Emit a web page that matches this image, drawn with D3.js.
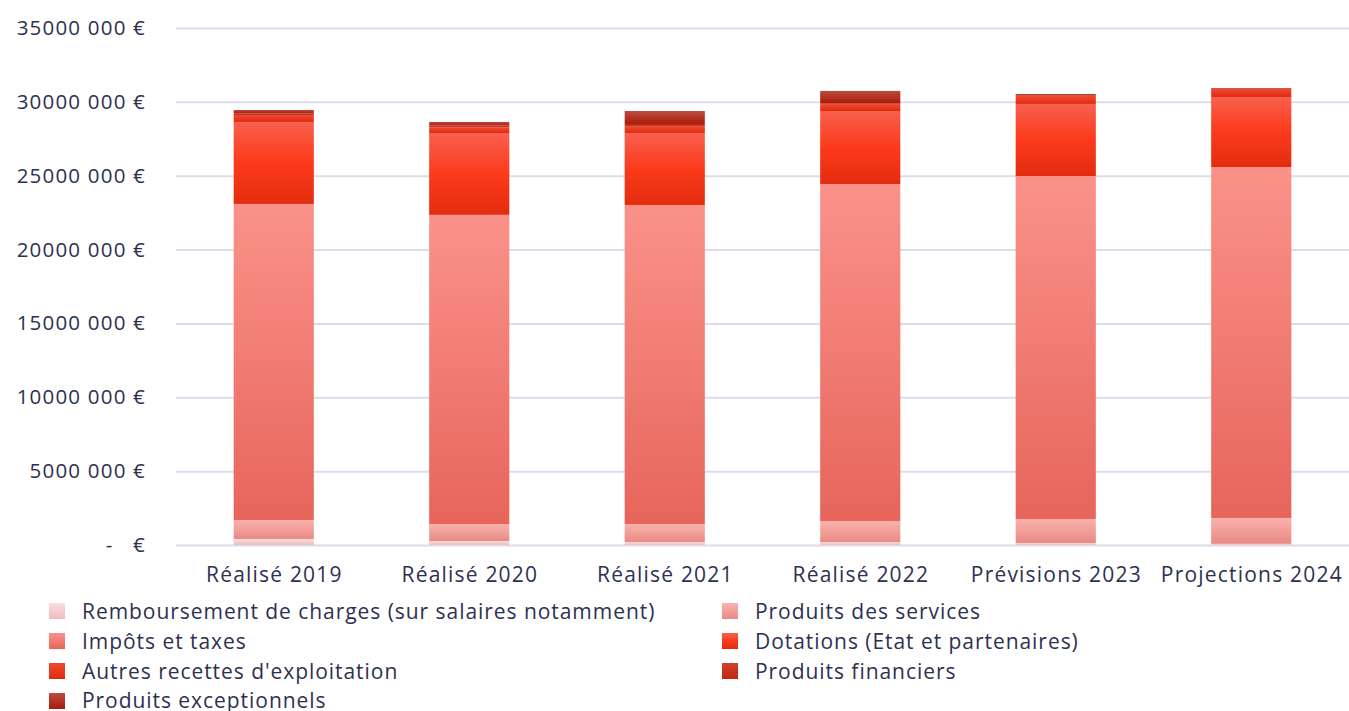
<!DOCTYPE html>
<html><head><meta charset="utf-8">
<script src="https://cdn.jsdelivr.net/npm/d3@7"></script>
<style>
html,body{margin:0;padding:0;background:#fff;}
svg{display:block;}
text{font-family:"Open Sans",Lato,sans-serif;fill:#2d3150;}
</style></head><body>
<svg id="chart" width="1349" height="711"></svg>
<script>
const categories = ["Réalisé 2019","Réalisé 2020","Réalisé 2021","Réalisé 2022","Prévisions 2023","Projections 2024"];
const seriesNames = ["Remboursement de charges (sur salaires notamment)","Produits des services","Impôts et taxes","Dotations (Etat et partenaires)","Autres recettes d'exploitation","Produits financiers","Produits exceptionnels"];
const remboursement = [410000, 270000, 200000, 200000, 140000, 80000];
const produitsServices = [1280000, 1150000, 1220000, 1420000, 1620000, 1750000];
const impots = [21400000, 20930000, 21600000, 22820000, 23220000, 23760000];
const dotations = [5550000, 5540000, 4870000, 4940000, 4880000, 4740000];
const autresRecettes = [470000, 390000, 470000, 470000, 540000, 540000];
const produitsFinanciers = [100000, 120000, 80000, 60000, 50000, 30000];
const produitsExceptionnels = [240000, 240000, 940000, 830000, 80000, 40000];
const yTicks = [0, 5000000, 10000000, 15000000, 20000000, 25000000, 30000000, 35000000];

const seriesValues = [remboursement, produitsServices, impots, dotations, autresRecettes, produitsFinanciers, produitsExceptionnels];
const grads = [
  ["#fbdcdd","#f0bcbe"],
  ["#fbb2ac","#e88a84"],
  ["#fa928a","#e7655b"],
  ["#f8604e","#fc3a1b","#e32c0f"],
  ["#ee4a30","#e02a10"],
  ["#d2402c","#c02812"],
  ["#bb4d40","#a81a06"]
];

const svg = d3.select("#chart");
const W = 1349;
const m = {left:176, right:0};
const x = d3.scaleBand().domain(categories).range([m.left, W - m.right]).paddingInner(0.59).paddingOuter(0.295);
const y = d3.scaleLinear().domain([0, 35000000]).range([545, 28]);

const defs = svg.append("defs");
grads.forEach((g,i)=>{
  const lg = defs.append("linearGradient").attr("id","g"+i).attr("x1",0).attr("y1",0).attr("x2",0).attr("y2",1);
  g.forEach((c,j)=>lg.append("stop").attr("offset", (j/(g.length-1)*100)+"%").attr("stop-color",c));
});

const yAxis = d3.axisLeft(y).tickValues(yTicks).tickSize(-(W - m.left)).tickPadding(30)
  .tickFormat(d => d === 0 ? "-   €" : (d/1000) + " 000 €");
const ga = svg.append("g").attr("transform",`translate(${m.left},0)`).call(yAxis);
ga.select(".domain").remove();
ga.selectAll(".tick line").attr("stroke","#dcdcec").attr("stroke-width",2);
ga.selectAll(".tick text").attr("font-size",20.5).attr("letter-spacing",1.2).attr("xml:space","preserve");

const table = categories.map((c,i)=>{ const o={cat:c}; seriesNames.forEach((s,k)=>o[s]=seriesValues[k][i]); return o; });
const stack = d3.stack().keys(seriesNames)(table);
svg.append("g").selectAll("g").data(stack).join("g")
  .attr("fill",(d,i)=>`url(#g${i})`)
  .selectAll("rect").data(d=>d).join("rect")
  .attr("x", d=>x(d.data.cat)).attr("width", x.bandwidth())
  .attr("y", d=>y(d[1])).attr("height", d=>y(d[0]) - y(d[1]));

const xa = svg.append("g").attr("transform","translate(0,545)").call(d3.axisBottom(x).tickSize(0).tickPadding(22));
xa.select(".domain").remove();
xa.selectAll(".tick text").attr("font-size",21).attr("letter-spacing",1.2).attr("dx",0.6);

const legendCols = [49, 722];
const leg = svg.append("g");
seriesNames.forEach((s,i)=>{
  const col = i % 2, row = Math.floor(i/2);
  const gx = legendCols[col], gy = 611 + row*30;
  leg.append("rect").attr("x",gx).attr("y",gy-8).attr("width",16).attr("height",16).attr("fill",`url(#g${i})`);
  leg.append("text").attr("x",gx+33).attr("y",gy - (row===3?1:0)).attr("dy","0.36em")
    .attr("font-size",21).attr("letter-spacing",0.95).text(s);
});
</script>
</body></html>
